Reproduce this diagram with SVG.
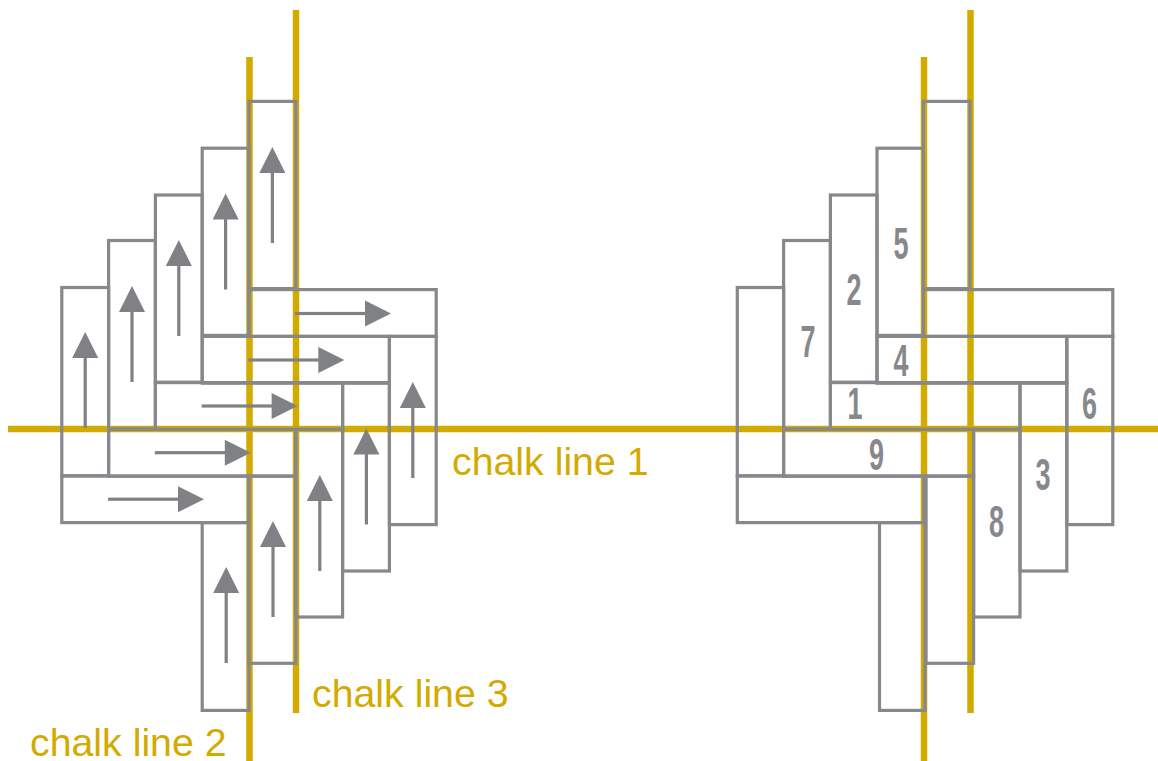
<svg xmlns="http://www.w3.org/2000/svg" xmlns:xlink="http://www.w3.org/1999/xlink" width="1158" height="761" viewBox="0 0 1158 761">
<style>
.chalk{stroke:#d2aa00;stroke-width:6.5;fill:none}
.board{fill:none;stroke:#87888c;stroke-width:3.2}
.lbl{font-family:"Liberation Sans",Arial,sans-serif;font-size:39.3px;fill:#d2aa00}
.num{font-family:"Liberation Sans",Arial,sans-serif;font-weight:bold;font-size:45px;fill:#87888c;text-anchor:middle}
.arr{fill:#808185}
</style>
<defs>
<g id="arr" class="arr">
<polygon points="0,0 -13,26 13,26"/>
<rect x="-1.6" y="25" width="3.2" height="71"/>
</g>
</defs>
<rect width="1158" height="761" fill="#ffffff"/>
<g id="chalk-lines">
<line class="chalk" x1="8" y1="429" x2="1158" y2="429"/>
<line class="chalk" x1="249.5" y1="57" x2="249.5" y2="761"/>
<line class="chalk" x1="296" y1="10" x2="296" y2="713"/>
<line class="chalk" x1="924" y1="57" x2="924" y2="761"/>
<line class="chalk" x1="970.5" y1="10" x2="970.5" y2="713"/>
</g>
<g id="left-pattern">
<g id="L-A"><rect class="board" x="61.8" y="287.5" width="46.8" height="188.3"/><use xlink:href="#arr" x="85.2" y="332"/></g>
<g id="L-B"><rect class="board" x="108.6" y="240.5" width="46.8" height="188.5"/><use xlink:href="#arr" x="132" y="286"/></g>
<g id="L-C"><rect class="board" x="155.4" y="195" width="46.8" height="187.2"/><use xlink:href="#arr" x="178.8" y="240"/></g>
<g id="L-D"><rect class="board" x="202.2" y="148.2" width="46.8" height="187.2"/><use xlink:href="#arr" x="225.6" y="193.5"/></g>
<g id="L-E"><rect class="board" x="249" y="101.4" width="46.8" height="187.2"/><use xlink:href="#arr" x="272.4" y="147"/></g>
<g id="L-H1"><rect class="board" x="249" y="289.6" width="187.2" height="46.8"/><use xlink:href="#arr" transform="translate(391,313.5) rotate(90)"/></g>
<g id="L-H2"><rect class="board" x="202.2" y="336.4" width="187.2" height="46.8"/><use xlink:href="#arr" transform="translate(344.3,360) rotate(90)"/></g>
<g id="L-H3"><rect class="board" x="155.4" y="382.6" width="187.2" height="46.8"/><use xlink:href="#arr" transform="translate(297.6,406) rotate(90)"/></g>
<g id="L-H4"><rect class="board" x="108.6" y="429.4" width="187.2" height="46.8"/><use xlink:href="#arr" transform="translate(250.8,452.7) rotate(90)"/></g>
<g id="L-H5"><rect class="board" x="61.8" y="476" width="187.2" height="46.6"/><use xlink:href="#arr" transform="translate(204,499.2) rotate(90)"/></g>
<g id="L-V1"><rect class="board" x="202.2" y="522.6" width="46.8" height="187.8"/><use xlink:href="#arr" x="226.2" y="567"/></g>
<g id="L-V2"><rect class="board" x="249" y="476" width="46.8" height="187.3"/><use xlink:href="#arr" x="273" y="521"/></g>
<g id="L-V3"><rect class="board" x="295.8" y="429.4" width="46.8" height="187.6"/><use xlink:href="#arr" x="319.8" y="475"/></g>
<g id="L-V4"><rect class="board" x="342.6" y="382.6" width="46.8" height="188.4"/><use xlink:href="#arr" x="366.4" y="428.5"/></g>
<g id="L-V5"><rect class="board" x="389.4" y="336.4" width="46.8" height="188.2"/><use xlink:href="#arr" x="412.8" y="382"/></g>
</g>
<g id="right-pattern">
<g id="R-A"><rect class="board" x="737.3" y="287.5" width="46.3" height="188.3"/></g>
<g id="R-B"><rect class="board" x="783.6" y="240.5" width="46.8" height="188.5"/><text class="num" transform="translate(808,357) scale(0.6,1)">7</text></g>
<g id="R-C"><rect class="board" x="830.4" y="195" width="46.6" height="187.2"/><text class="num" transform="translate(854,305) scale(0.6,1)">2</text></g>
<g id="R-D"><rect class="board" x="877" y="148.2" width="46.4" height="187.2"/><text class="num" transform="translate(901,259) scale(0.6,1)">5</text></g>
<g id="R-E"><rect class="board" x="923.4" y="101.4" width="46.6" height="187.2"/></g>
<g id="R-H1"><rect class="board" x="923.4" y="289.6" width="189.4" height="46.8"/></g>
<g id="R-H2"><rect class="board" x="877" y="336.4" width="189.8" height="46.8"/><text class="num" transform="translate(901,376) scale(0.6,1)">4</text></g>
<g id="R-H3"><rect class="board" x="830.4" y="382.6" width="189.6" height="46.8"/><text class="num" transform="translate(855,419) scale(0.6,1)">1</text></g>
<g id="R-H4"><rect class="board" x="783.6" y="429.4" width="190" height="46.8"/><text class="num" transform="translate(876.5,470) scale(0.6,1)">9</text></g>
<g id="R-H5"><rect class="board" x="737.3" y="476" width="186.5" height="46.6"/></g>
<g id="R-V1"><rect class="board" x="879.5" y="522.6" width="45.5" height="187.8"/></g>
<g id="R-V2"><rect class="board" x="926" y="476" width="47.6" height="187.3"/></g>
<g id="R-V3"><rect class="board" x="973.6" y="429.4" width="46.4" height="187.6"/><text class="num" transform="translate(996.5,537) scale(0.6,1)">8</text></g>
<g id="R-V4"><rect class="board" x="1020" y="382.6" width="46.8" height="188.4"/><text class="num" transform="translate(1043,490) scale(0.6,1)">3</text></g>
<g id="R-V5"><rect class="board" x="1066.8" y="336.4" width="46" height="188.2"/><text class="num" transform="translate(1089.5,419) scale(0.6,1)">6</text></g>
</g>
<g id="labels">
<text class="lbl" x="452" y="475">chalk line 1</text>
<text class="lbl" x="312" y="706.5">chalk line 3</text>
<text class="lbl" x="30" y="756">chalk line 2</text>
</g>
</svg>
